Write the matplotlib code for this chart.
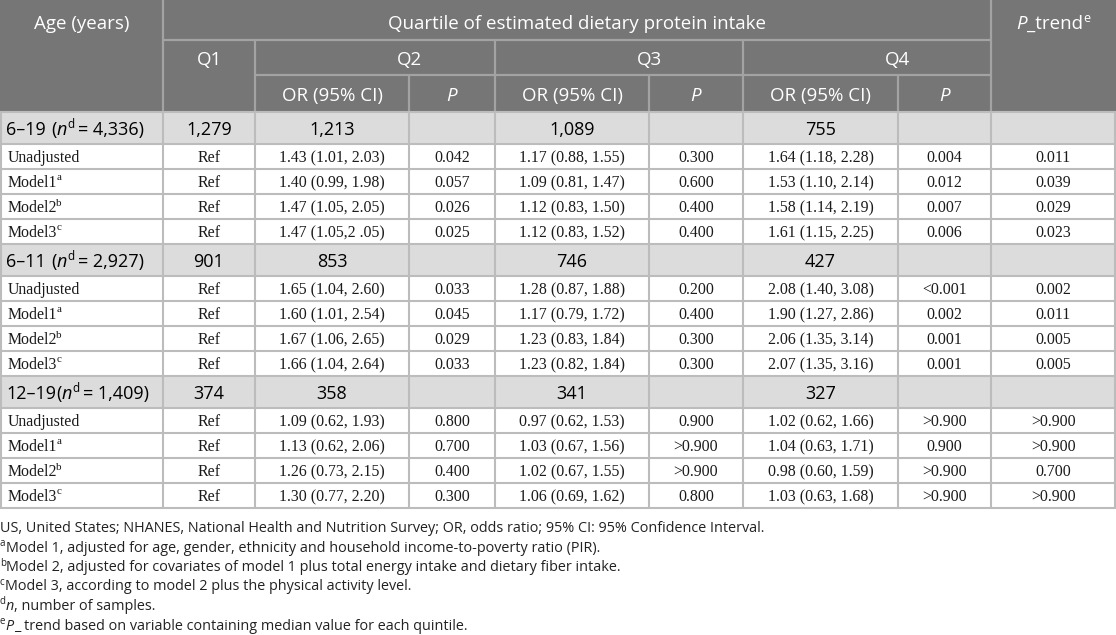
import matplotlib
matplotlib.use('Agg')
import matplotlib.pyplot as plt
from matplotlib.patches import Rectangle

# ---- table content ----
groups = ['6–19', '6–11', '12–19']
group_n = ['4,336', '2,927', '1,409']
group_q1 = ['1,279', '901', '374']
group_q2 = ['1,213', '853', '358']
group_q3 = ['1,089', '746', '341']
group_q4 = ['755', '427', '327']

models = ['Unadjusted', 'Model1', 'Model2', 'Model3']
model_sup = ['', 'a', 'b', 'c']

or_q2 = ['1.43 (1.01, 2.03)', '1.40 (0.99, 1.98)', '1.47 (1.05, 2.05)', '1.47 (1.05,2 .05)',
         '1.65 (1.04, 2.60)', '1.60 (1.01, 2.54)', '1.67 (1.06, 2.65)', '1.66 (1.04, 2.64)',
         '1.09 (0.62, 1.93)', '1.13 (0.62, 2.06)', '1.26 (0.73, 2.15)', '1.30 (0.77, 2.20)']
p_q2 = ['0.042', '0.057', '0.026', '0.025',
        '0.033', '0.045', '0.029', '0.033',
        '0.800', '0.700', '0.400', '0.300']
or_q3 = ['1.17 (0.88, 1.55)', '1.09 (0.81, 1.47)', '1.12 (0.83, 1.50)', '1.12 (0.83, 1.52)',
         '1.28 (0.87, 1.88)', '1.17 (0.79, 1.72)', '1.23 (0.83, 1.84)', '1.23 (0.82, 1.84)',
         '0.97 (0.62, 1.53)', '1.03 (0.67, 1.56)', '1.02 (0.67, 1.55)', '1.06 (0.69, 1.62)']
p_q3 = ['0.300', '0.600', '0.400', '0.400',
        '0.200', '0.400', '0.300', '0.300',
        '0.900', '>0.900', '>0.900', '0.800']
or_q4 = ['1.64 (1.18, 2.28)', '1.53 (1.10, 2.14)', '1.58 (1.14, 2.19)', '1.61 (1.15, 2.25)',
         '2.08 (1.40, 3.08)', '1.90 (1.27, 2.86)', '2.06 (1.35, 3.14)', '2.07 (1.35, 3.16)',
         '1.02 (0.62, 1.66)', '1.04 (0.63, 1.71)', '0.98 (0.60, 1.59)', '1.03 (0.63, 1.68)']
p_q4 = ['0.004', '0.012', '0.007', '0.006',
        '<0.001', '0.002', '0.001', '0.001',
        '>0.900', '0.900', '>0.900', '>0.900']
p_trend = ['0.011', '0.039', '0.029', '0.023',
           '0.002', '0.011', '0.005', '0.005',
           '>0.900', '>0.900', '0.700', '>0.900']

footnotes = [
    ('', '', 'US, United States; NHANES, National Health and Nutrition Survey; OR, odds ratio; 95% CI: 95% Confidence Interval.'),
    ('a', '', 'Model 1, adjusted for age, gender, ethnicity and household income-to-poverty ratio (PIR).'),
    ('b', '', 'Model 2, adjusted for covariates of model 1 plus total energy intake and dietary fiber intake.'),
    ('c', '', 'Model 3, according to model 2 plus the physical activity level.'),
    ('d', 'n', ', number of samples.'),
    ('e', 'P', '_ trend based on variable containing median value for each quintile.'),
]

# ---- layout (pixels) ----
W, H = 1116, 635
cols = [0, 163, 255, 409, 495, 649, 743, 898, 991, 1116]
hdr = [0, 40, 75, 112]
grp_h, row_h = 32, 25

HDR_BG = '#767676'
HDR_LINE = '#a3a3a3'
GRP_BG = '#dcdcdc'
GRID = '#bcbcbc'
SANS = 'Open Sans'
SERIF = 'Liberation Serif'

fig = plt.figure(figsize=(W / 100, H / 100), dpi=100)
ax = fig.add_axes([0, 0, 1, 1])
ax.set_xlim(0, W)
ax.set_ylim(H, 0)
ax.axis('off')
renderer = fig.canvas.get_renderer()


def runs(x, y, parts, ha='left', **common):
    """parts: (text, extra kwargs, rise px, gap px after); y is the baseline"""
    arts, gaps = [], []
    for s, kw, rise, gap in parts:
        opts = dict(common)
        opts.update(kw)
        arts.append(ax.text(0, y - rise, s, ha='left', va='baseline', **opts))
        gaps.append(gap)
    widths = [a.get_window_extent(renderer).width for a in arts]
    total = sum(widths) + sum(gaps[:-1])
    pos = x - total / 2 if ha == 'center' else x
    for a, w, g in zip(arts, widths, gaps):
        a.set_x(pos)
        pos += w + g


def mid(i):
    return (cols[i] + cols[i + 1]) / 2


def hline(y, x0, x1, color=GRID, lw=1.5):
    ax.plot([x0, x1], [y, y], color=color, lw=lw, solid_capstyle='butt')


def vline(x, y0, y1, color=GRID, lw=1.5):
    ax.plot([x, x], [y0, y1], color=color, lw=lw, solid_capstyle='butt')


# header block
ax.add_patch(Rectangle((0, 0), W, hdr[3], color=HDR_BG, lw=0))
hfont = dict(family=SANS, fontsize=13.5, color='white', va='baseline')
hb = 6.7  # baseline offset below the visual centre
ax.text(mid(0), 22 + hb, 'Age (years)', ha='center', **hfont)
ax.text((cols[1] + cols[8]) / 2, 22 + hb, 'Quartile of estimated dietary protein intake',
        ha='center', **hfont)
hfont_r = {k: v for k, v in hfont.items() if k != 'va'}
runs(mid(8), 22 + hb, [('P', dict(style='italic'), 0, 0), ('_trend', {}, 0, 0),
                       ('e', dict(fontsize=9), 7, 0)], ha='center', **hfont_r)
ax.text(mid(1), 58 + hb, 'Q1', ha='center', **hfont)
for k, q in enumerate(['Q2', 'Q3', 'Q4']):
    c = 2 + 2 * k
    ax.text(cols[c + 1], 58 + hb, q, ha='center', **hfont)
    ax.text(mid(c), 94 + hb, 'OR (95% CI)', ha='center', **hfont)
    ax.text(mid(c + 1), 94 + hb, 'P', ha='center', style='italic', **hfont)

# header lines
hline(hdr[1], cols[1], cols[8], HDR_LINE, 1.6)
for c in (2, 4, 6):
    hline(hdr[2], cols[c], cols[c + 2], HDR_LINE, 1.6)
    vline(cols[c + 1], hdr[2], hdr[3], HDR_LINE, 1.6)
for c in (1, 8):
    vline(cols[c], 0, hdr[3], HDR_LINE, 1.6)
for c in (2, 4, 6):
    vline(cols[c], hdr[1], hdr[3], HDR_LINE, 1.6)

# body
gfont = dict(family=SANS, fontsize=13, color='black')
bfont = dict(family=SERIF, fontsize=11.4, color='#1a1a1a')
gb, bb = 6.4, 4.5
y = hdr[3]
for g in range(len(groups)):
    ax.add_patch(Rectangle((0, y), W, grp_h, color=GRP_BG, lw=0))
    yb = y + grp_h / 2 + 1 + gb
    sep = 5 if g < 2 else 0
    runs(6, yb, [(groups[g], {}, 0, sep), ('(', {}, 0, 0), ('n', dict(style='italic'), 0, 1),
                 ('d', dict(fontsize=8.5), 7, 3), ('= ' + group_n[g] + ')', {}, 0, 0)], **gfont)
    for c, val in zip((1, 2, 4, 6), (group_q1[g], group_q2[g], group_q3[g], group_q4[g])):
        ax.text(mid(c), yb, val, ha='center', va='baseline', **gfont)
    hline(y, 0, W)
    y += grp_h
    for m in range(len(models)):
        i = g * len(models) + m
        yb = y + row_h / 2 + 1 + bb
        hline(y, 0, W)
        parts = [(models[m], {}, 0, -1)]
        if model_sup[m]:
            parts.append((model_sup[m], dict(fontsize=8), 6.5, 0))
        runs(8, yb, parts, **bfont)
        vals = ['Ref', or_q2[i], p_q2[i], or_q3[i], p_q3[i], or_q4[i], p_q4[i], p_trend[i]]
        for c, val in enumerate(vals, start=1):
            ax.text(mid(c), yb, val, ha='center', va='baseline', **bfont)
        y += row_h
hline(y, 0, W)
for c in range(1, 9):
    vline(cols[c], hdr[3], y)
vline(1, hdr[3], y)
vline(W - 1, hdr[3], y)

# footnotes
ffont = dict(family=SANS, fontsize=10.4, color='#222222')
fy = 532
for sup, ital, text in footnotes:
    parts = []
    if sup:
        parts.append((sup, dict(fontsize=7), 5.5, 0))
    if ital:
        parts.append((ital, dict(style='italic'), 0, 0))
    parts.append((text, {}, 0, 0))
    runs(0, fy, parts, **ffont)
    fy += 19.5

fig.savefig('out.png', dpi=100)
